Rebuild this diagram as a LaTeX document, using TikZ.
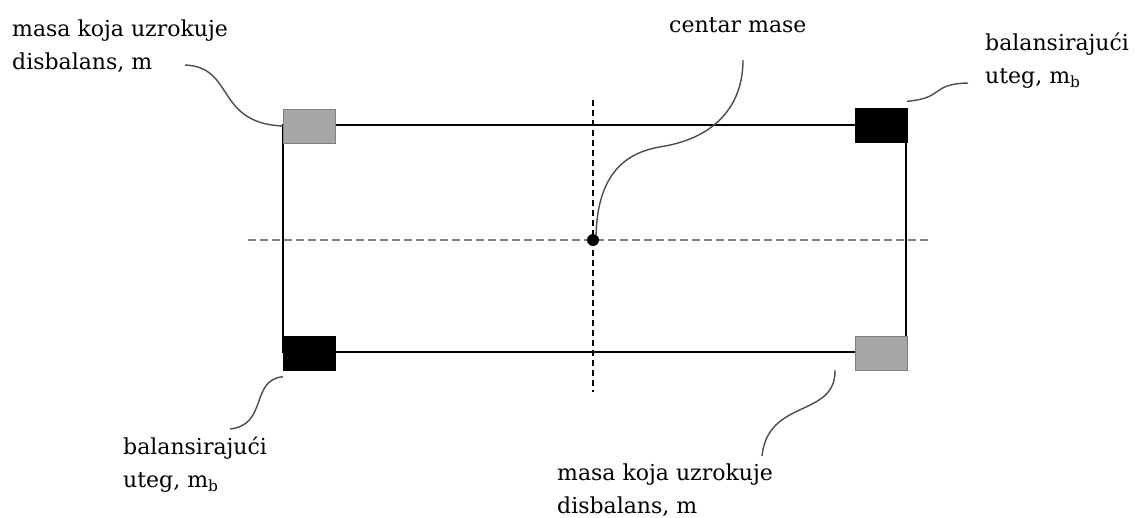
\documentclass[tikz,border=0pt]{standalone}
\usepackage{fontspec}
\setmainfont{DejaVu Serif}
\usepackage{tikz}

\tikzset{
  frame/.style={line width=2.8pt},
  weightgray/.style={draw=black!50,fill=black!35,line width=1pt,minimum width=52pt,minimum height=34pt,inner sep=0pt},
  weightblack/.style={draw=black,fill=black,minimum width=52pt,minimum height=34pt,inner sep=0pt},
  callout/.style={draw=black!70,line width=1.4pt},
  lbl/.style={anchor=base west,align=left,inner sep=0pt,font=\fontsize{22}{33}\selectfont}
}

\begin{document}
\begin{tikzpicture}[x=1pt,y=-1pt]
\useasboundingbox (0,0) rectangle (1135,517);
% axes
\draw[black!50,line width=1.8pt,dash pattern=on 8pt off 4pt] (248,240) -- (930,240);
\draw[line width=1.2pt,dash pattern=on 6pt off 4pt] (593,100) -- (593,392);
% shaft
\draw[frame] (283,125) rectangle (906,352);
\node[weightgray] (mtl) at (309,126) {};
\node[weightblack] (mbtr) at (881,125.5) {};
\node[weightblack] (mbbl) at (309,353.5) {};
\node[weightgray] (mbr) at (881,353.5) {};
\node[circle,fill=black,minimum size=12pt,inner sep=0pt] (cm) at (593,240) {};
% labels (anchored at the baseline of the last line)
\node[lbl] (ltl) at (12,69) {masa koja uzrokuje\\disbalans, m};
\node[lbl] (lcm) at (669,32) {centar mase};
\node[lbl] (ltr) at (985,83) {balansirajući\\uteg, m\textsubscript{b}};
\node[lbl] (lbl) at (123,487) {balansirajući\\uteg, m\textsubscript{b}};
\node[lbl] (lbr) at (557,513) {masa koja uzrokuje\\disbalans, m};
% callouts
\coordinate (ctl) at (185,65);
\coordinate (ccm) at (743,60);
\coordinate (ctr) at (968,83);
\coordinate (cbl) at (230,429);
\coordinate (cbr) at (762,456);
\draw[callout] (ctl) .. controls (235,67) and (215,123) .. (mtl.west);
\draw[callout] (cm.60) .. controls (598,160) and (640,150) .. (665,146)
  .. controls (710,138) and (743,110) .. (ccm);
\draw[callout] (mbtr.north east) ++(0,-7) .. controls (945,98) and (930,84) .. (ctr);
\draw[callout] (mbbl.south west) ++(0,6) .. controls (250,380) and (268,425) .. (cbl);
\draw[callout] (835,370) .. controls (836,418) and (768,398) .. (cbr);
\end{tikzpicture}
\end{document}
